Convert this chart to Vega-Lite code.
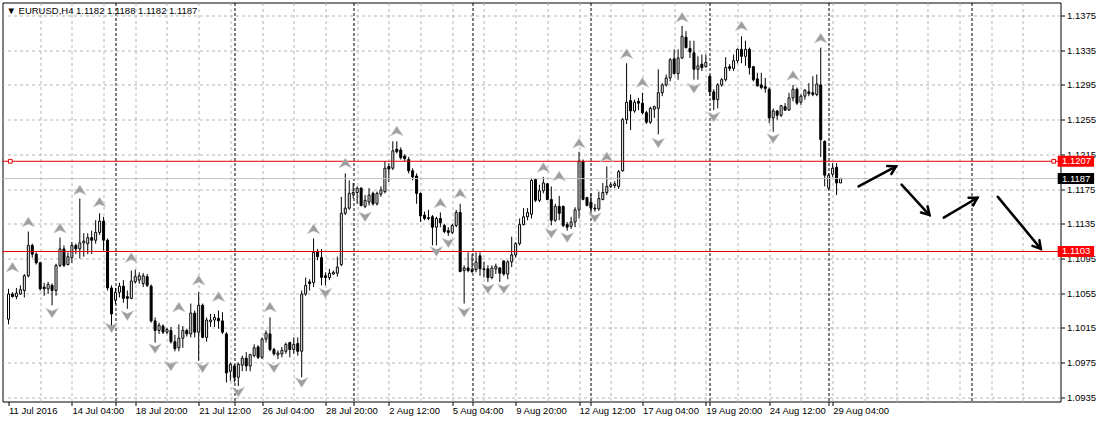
{
"$schema":"https://vega.github.io/schema/vega-lite/v6.json",
"width":1058,"height":399,
"autosize":{"type":"none"},
"padding":{"left":2.5,"top":2.5,"right":40.5,"bottom":20.5},
"background":"white",
"title":{"text":"▼ EURUSD,H4  1.1182 1.1188 1.1182 1.1187","anchor":"start","frame":"group","orient":"top","offset":-13,"dx":4,"fontSize":9.5,"fontWeight":"normal","color":"black","font":"Liberation Sans"},
"config":{"view":{"stroke":"black","strokeWidth":1,"fill":"white"},"font":"Liberation Sans","axis":{"labelFont":"Liberation Sans","labelFontSize":9.5,"labelColor":"black","tickColor":"black","domain":false,"title":null,"labelOverlap":false}},
"resolve":{"axis":{"x":"independent","y":"independent"}},
"datasets":{
"candles":[
{"i":0,"open":1.1025,"high":1.1060,"low":1.1019,"close":1.1054},
{"i":1,"open":1.1054,"high":1.1056,"low":1.1050,"close":1.1051},
{"i":2,"open":1.1051,"high":1.1061,"low":1.1048,"close":1.1055},
{"i":3,"open":1.1054,"high":1.1064,"low":1.1053,"close":1.1059},
{"i":4,"open":1.1058,"high":1.1077,"low":1.1050,"close":1.1075},
{"i":5,"open":1.1075,"high":1.1126,"low":1.1073,"close":1.1110},
{"i":6,"open":1.1110,"high":1.1112,"low":1.1096,"close":1.1100},
{"i":7,"open":1.1100,"high":1.1102,"low":1.1088,"close":1.1090},
{"i":8,"open":1.1090,"high":1.1091,"low":1.1058,"close":1.1060},
{"i":9,"open":1.1062,"high":1.1067,"low":1.1052,"close":1.1060},
{"i":10,"open":1.1060,"high":1.1068,"low":1.1054,"close":1.1065},
{"i":11,"open":1.1064,"high":1.1066,"low":1.1041,"close":1.1058},
{"i":12,"open":1.1058,"high":1.1089,"low":1.1052,"close":1.1087},
{"i":13,"open":1.1087,"high":1.1119,"low":1.1085,"close":1.1106},
{"i":14,"open":1.1106,"high":1.1110,"low":1.1085,"close":1.1087},
{"i":15,"open":1.1088,"high":1.1102,"low":1.1087,"close":1.1097},
{"i":16,"open":1.1096,"high":1.1114,"low":1.1090,"close":1.1110},
{"i":17,"open":1.1110,"high":1.1112,"low":1.1100,"close":1.1106},
{"i":18,"open":1.1106,"high":1.1164,"low":1.1095,"close":1.1113},
{"i":19,"open":1.1113,"high":1.1124,"low":1.1097,"close":1.1115},
{"i":20,"open":1.1112,"high":1.1124,"low":1.1100,"close":1.1119},
{"i":21,"open":1.1119,"high":1.1127,"low":1.1100,"close":1.1116},
{"i":22,"open":1.1116,"high":1.1139,"low":1.1112,"close":1.1125},
{"i":23,"open":1.1125,"high":1.1147,"low":1.1122,"close":1.1138},
{"i":24,"open":1.1138,"high":1.1143,"low":1.1104,"close":1.1116},
{"i":25,"open":1.1116,"high":1.1118,"low":1.1058,"close":1.1061},
{"i":26,"open":1.1061,"high":1.1064,"low":1.1017,"close":1.1031},
{"i":27,"open":1.1047,"high":1.1061,"low":1.1042,"close":1.1056},
{"i":28,"open":1.1056,"high":1.1067,"low":1.1050,"close":1.1063},
{"i":29,"open":1.1063,"high":1.1070,"low":1.1044,"close":1.1049},
{"i":30,"open":1.1051,"high":1.1058,"low":1.1037,"close":1.1049},
{"i":31,"open":1.1049,"high":1.1081,"low":1.1048,"close":1.1069},
{"i":32,"open":1.1068,"high":1.1082,"low":1.1066,"close":1.1074},
{"i":33,"open":1.1070,"high":1.1079,"low":1.1066,"close":1.1075},
{"i":34,"open":1.1066,"high":1.1078,"low":1.1062,"close":1.1075},
{"i":35,"open":1.1074,"high":1.1077,"low":1.1062,"close":1.1064},
{"i":36,"open":1.1063,"high":1.1065,"low":1.1021,"close":1.1023},
{"i":37,"open":1.1023,"high":1.1027,"low":1.0998,"close":1.1012},
{"i":38,"open":1.1012,"high":1.1021,"low":1.1008,"close":1.1018},
{"i":39,"open":1.1017,"high":1.1019,"low":1.1008,"close":1.1010},
{"i":40,"open":1.1010,"high":1.1015,"low":1.1008,"close":1.1013},
{"i":41,"open":1.1012,"high":1.1016,"low":1.0997,"close":1.0999},
{"i":42,"open":1.0999,"high":1.1007,"low":1.0988,"close":1.0991},
{"i":43,"open":1.0992,"high":1.1019,"low":1.0988,"close":1.1003},
{"i":44,"open":1.1003,"high":1.1017,"low":1.0992,"close":1.1012},
{"i":45,"open":1.1012,"high":1.1014,"low":1.1005,"close":1.1008},
{"i":46,"open":1.1008,"high":1.1043,"low":1.1004,"close":1.1032},
{"i":47,"open":1.1032,"high":1.1035,"low":1.1004,"close":1.1010},
{"i":48,"open":1.1010,"high":1.1056,"low":1.0977,"close":1.1041},
{"i":49,"open":1.1041,"high":1.1043,"low":1.1003,"close":1.1004},
{"i":50,"open":1.1004,"high":1.1027,"low":1.0999,"close":1.1024},
{"i":51,"open":1.1022,"high":1.1031,"low":1.1016,"close":1.1024},
{"i":52,"open":1.1024,"high":1.1031,"low":1.1016,"close":1.1027},
{"i":53,"open":1.1026,"high":1.1035,"low":1.1014,"close":1.1023},
{"i":54,"open":1.1023,"high":1.1033,"low":1.1008,"close":1.1010},
{"i":55,"open":1.1008,"high":1.1010,"low":1.0952,"close":1.0963},
{"i":56,"open":1.0965,"high":1.0975,"low":1.0954,"close":1.0973},
{"i":57,"open":1.0971,"high":1.0973,"low":1.0952,"close":1.0958},
{"i":58,"open":1.0958,"high":1.0975,"low":1.0948,"close":1.0973},
{"i":59,"open":1.0972,"high":1.0983,"low":1.0965,"close":1.0980},
{"i":60,"open":1.0980,"high":1.0987,"low":1.0965,"close":1.0971},
{"i":61,"open":1.0971,"high":1.0985,"low":1.0965,"close":1.0984},
{"i":62,"open":1.0983,"high":1.0996,"low":1.0981,"close":1.0992},
{"i":63,"open":1.0993,"high":1.0995,"low":1.0979,"close":1.0981},
{"i":64,"open":1.0981,"high":1.1004,"low":1.0979,"close":1.1002},
{"i":65,"open":1.1002,"high":1.1012,"low":1.0998,"close":1.1009},
{"i":66,"open":1.1008,"high":1.1027,"low":1.0988,"close":1.0990},
{"i":67,"open":1.0990,"high":1.0992,"low":1.0983,"close":1.0985},
{"i":68,"open":1.0984,"high":1.0989,"low":1.0979,"close":1.0986},
{"i":69,"open":1.0985,"high":1.0993,"low":1.0981,"close":1.0989},
{"i":70,"open":1.0988,"high":1.0998,"low":1.0985,"close":1.0996},
{"i":71,"open":1.0998,"high":1.0999,"low":1.0981,"close":1.0990},
{"i":72,"open":1.0990,"high":1.1004,"low":1.0985,"close":1.0996},
{"i":73,"open":1.0997,"high":1.1004,"low":1.0983,"close":1.0988},
{"i":74,"open":1.0988,"high":1.1058,"low":1.0958,"close":1.1054},
{"i":75,"open":1.1054,"high":1.1073,"low":1.1052,"close":1.1064},
{"i":76,"open":1.1068,"high":1.1071,"low":1.1058,"close":1.1066},
{"i":77,"open":1.1067,"high":1.1118,"low":1.1062,"close":1.1102},
{"i":78,"open":1.1103,"high":1.1106,"low":1.1093,"close":1.1097},
{"i":79,"open":1.1096,"high":1.1106,"low":1.1064,"close":1.1073},
{"i":80,"open":1.1075,"high":1.1079,"low":1.1064,"close":1.1073},
{"i":81,"open":1.1073,"high":1.1083,"low":1.1070,"close":1.1078},
{"i":82,"open":1.1077,"high":1.1081,"low":1.1076,"close":1.1079},
{"i":83,"open":1.1078,"high":1.1097,"low":1.1074,"close":1.1085},
{"i":84,"open":1.1088,"high":1.1166,"low":1.1086,"close":1.1147},
{"i":85,"open":1.1147,"high":1.1193,"low":1.1145,"close":1.1153},
{"i":86,"open":1.1153,"high":1.1185,"low":1.1151,"close":1.1170},
{"i":87,"open":1.1169,"high":1.1182,"low":1.1164,"close":1.1171},
{"i":88,"open":1.1171,"high":1.1178,"low":1.1158,"close":1.1176},
{"i":89,"open":1.1176,"high":1.1177,"low":1.1155,"close":1.1156},
{"i":90,"open":1.1155,"high":1.1168,"low":1.1153,"close":1.1162},
{"i":91,"open":1.1160,"high":1.1176,"low":1.1156,"close":1.1168},
{"i":92,"open":1.1170,"high":1.1172,"low":1.1156,"close":1.1158},
{"i":93,"open":1.1158,"high":1.1172,"low":1.1156,"close":1.1170},
{"i":94,"open":1.1169,"high":1.1178,"low":1.1166,"close":1.1174},
{"i":95,"open":1.1172,"high":1.1207,"low":1.1170,"close":1.1199},
{"i":96,"open":1.1201,"high":1.1205,"low":1.1183,"close":1.1198},
{"i":97,"open":1.1199,"high":1.1230,"low":1.1197,"close":1.1219},
{"i":98,"open":1.1221,"high":1.1230,"low":1.1216,"close":1.1218},
{"i":99,"open":1.1220,"high":1.1223,"low":1.1209,"close":1.1211},
{"i":100,"open":1.1213,"high":1.1215,"low":1.1207,"close":1.1210},
{"i":101,"open":1.1209,"high":1.1212,"low":1.1193,"close":1.1196},
{"i":102,"open":1.1196,"high":1.1199,"low":1.1185,"close":1.1189},
{"i":103,"open":1.1190,"high":1.1193,"low":1.1158,"close":1.1170},
{"i":104,"open":1.1170,"high":1.1171,"low":1.1137,"close":1.1144},
{"i":105,"open":1.1145,"high":1.1149,"low":1.1139,"close":1.1141},
{"i":106,"open":1.1142,"high":1.1151,"low":1.1139,"close":1.1141},
{"i":107,"open":1.1143,"high":1.1145,"low":1.1110,"close":1.1131},
{"i":108,"open":1.1131,"high":1.1143,"low":1.1110,"close":1.1141},
{"i":109,"open":1.1141,"high":1.1148,"low":1.1131,"close":1.1136},
{"i":110,"open":1.1133,"high":1.1135,"low":1.1124,"close":1.1126},
{"i":111,"open":1.1127,"high":1.1131,"low":1.1121,"close":1.1125},
{"i":112,"open":1.1125,"high":1.1135,"low":1.1123,"close":1.1133},
{"i":113,"open":1.1133,"high":1.1151,"low":1.1131,"close":1.1148},
{"i":114,"open":1.1148,"high":1.1158,"low":1.1079,"close":1.1080},
{"i":115,"open":1.1081,"high":1.1087,"low":1.1043,"close":1.1084},
{"i":116,"open":1.1084,"high":1.1102,"low":1.1079,"close":1.1081},
{"i":117,"open":1.1082,"high":1.1100,"low":1.1078,"close":1.1080},
{"i":118,"open":1.1082,"high":1.1102,"low":1.1079,"close":1.1091},
{"i":119,"open":1.1098,"high":1.1102,"low":1.1075,"close":1.1083},
{"i":120,"open":1.1083,"high":1.1091,"low":1.1073,"close":1.1082},
{"i":121,"open":1.1083,"high":1.1087,"low":1.1068,"close":1.1073},
{"i":122,"open":1.1073,"high":1.1087,"low":1.1071,"close":1.1084},
{"i":123,"open":1.1083,"high":1.1089,"low":1.1077,"close":1.1086},
{"i":124,"open":1.1084,"high":1.1085,"low":1.1068,"close":1.1078},
{"i":125,"open":1.1092,"high":1.1093,"low":1.1075,"close":1.1077},
{"i":126,"open":1.1077,"high":1.1093,"low":1.1071,"close":1.1091},
{"i":127,"open":1.1091,"high":1.1120,"low":1.1085,"close":1.1099},
{"i":128,"open":1.1099,"high":1.1114,"low":1.1096,"close":1.1112},
{"i":129,"open":1.1112,"high":1.1141,"low":1.1110,"close":1.1134},
{"i":130,"open":1.1134,"high":1.1153,"low":1.1133,"close":1.1143},
{"i":131,"open":1.1143,"high":1.1153,"low":1.1139,"close":1.1148},
{"i":132,"open":1.1146,"high":1.1187,"low":1.1141,"close":1.1185},
{"i":133,"open":1.1186,"high":1.1187,"low":1.1160,"close":1.1162},
{"i":134,"open":1.1162,"high":1.1180,"low":1.1160,"close":1.1173},
{"i":135,"open":1.1173,"high":1.1189,"low":1.1170,"close":1.1182},
{"i":136,"open":1.1181,"high":1.1182,"low":1.1162,"close":1.1163},
{"i":137,"open":1.1163,"high":1.1178,"low":1.1133,"close":1.1139},
{"i":138,"open":1.1139,"high":1.1158,"low":1.1137,"close":1.1155},
{"i":139,"open":1.1155,"high":1.1167,"low":1.1139,"close":1.1147},
{"i":140,"open":1.1155,"high":1.1156,"low":1.1131,"close":1.1133},
{"i":141,"open":1.1134,"high":1.1137,"low":1.1127,"close":1.1131},
{"i":142,"open":1.1132,"high":1.1143,"low":1.1129,"close":1.1137},
{"i":143,"open":1.1137,"high":1.1154,"low":1.1131,"close":1.1151},
{"i":144,"open":1.1151,"high":1.1218,"low":1.1141,"close":1.1207},
{"i":145,"open":1.1207,"high":1.1209,"low":1.1162,"close":1.1163},
{"i":146,"open":1.1165,"high":1.1166,"low":1.1155,"close":1.1156},
{"i":147,"open":1.1160,"high":1.1170,"low":1.1147,"close":1.1153},
{"i":148,"open":1.1153,"high":1.1158,"low":1.1149,"close":1.1152},
{"i":149,"open":1.1152,"high":1.1172,"low":1.1150,"close":1.1164},
{"i":150,"open":1.1163,"high":1.1182,"low":1.1162,"close":1.1171},
{"i":151,"open":1.1171,"high":1.1201,"low":1.1168,"close":1.1178},
{"i":152,"open":1.1178,"high":1.1183,"low":1.1176,"close":1.1180},
{"i":153,"open":1.1179,"high":1.1184,"low":1.1176,"close":1.1181},
{"i":154,"open":1.1178,"high":1.1197,"low":1.1175,"close":1.1195},
{"i":155,"open":1.1196,"high":1.1257,"low":1.1195,"close":1.1255},
{"i":156,"open":1.1255,"high":1.1320,"low":1.1250,"close":1.1275},
{"i":157,"open":1.1277,"high":1.1284,"low":1.1243,"close":1.1265},
{"i":158,"open":1.1265,"high":1.1278,"low":1.1263,"close":1.1275},
{"i":159,"open":1.1276,"high":1.1280,"low":1.1266,"close":1.1274},
{"i":160,"open":1.1274,"high":1.1286,"low":1.1261,"close":1.1263},
{"i":161,"open":1.1263,"high":1.1265,"low":1.1250,"close":1.1252},
{"i":162,"open":1.1252,"high":1.1270,"low":1.1250,"close":1.1268},
{"i":163,"open":1.1267,"high":1.1271,"low":1.1257,"close":1.1270},
{"i":164,"open":1.1268,"high":1.1313,"low":1.1238,"close":1.1286},
{"i":165,"open":1.1286,"high":1.1297,"low":1.1282,"close":1.1295},
{"i":166,"open":1.1295,"high":1.1307,"low":1.1293,"close":1.1303},
{"i":167,"open":1.1303,"high":1.1326,"low":1.1299,"close":1.1324},
{"i":168,"open":1.1325,"high":1.1336,"low":1.1307,"close":1.1308},
{"i":169,"open":1.1308,"high":1.1336,"low":1.1301,"close":1.1326},
{"i":170,"open":1.1326,"high":1.1363,"low":1.1325,"close":1.1351},
{"i":171,"open":1.1350,"high":1.1357,"low":1.1337,"close":1.1338},
{"i":172,"open":1.1337,"high":1.1346,"low":1.1326,"close":1.1333},
{"i":173,"open":1.1332,"high":1.1346,"low":1.1301,"close":1.1313},
{"i":174,"open":1.1313,"high":1.1328,"low":1.1301,"close":1.1317},
{"i":175,"open":1.1319,"high":1.1330,"low":1.1311,"close":1.1315},
{"i":176,"open":1.1316,"high":1.1330,"low":1.1315,"close":1.1321},
{"i":177,"open":1.1305,"high":1.1306,"low":1.1282,"close":1.1287},
{"i":178,"open":1.1287,"high":1.1290,"low":1.1266,"close":1.1278},
{"i":179,"open":1.1278,"high":1.1297,"low":1.1268,"close":1.1295},
{"i":180,"open":1.1295,"high":1.1303,"low":1.1293,"close":1.1301},
{"i":181,"open":1.1301,"high":1.1327,"low":1.1299,"close":1.1315},
{"i":182,"open":1.1316,"high":1.1319,"low":1.1311,"close":1.1314},
{"i":183,"open":1.1314,"high":1.1330,"low":1.1311,"close":1.1323},
{"i":184,"open":1.1323,"high":1.1337,"low":1.1320,"close":1.1336},
{"i":185,"open":1.1336,"high":1.1351,"low":1.1320,"close":1.1328},
{"i":186,"open":1.1328,"high":1.1346,"low":1.1317,"close":1.1336},
{"i":187,"open":1.1336,"high":1.1338,"low":1.1307,"close":1.1315},
{"i":188,"open":1.1316,"high":1.1317,"low":1.1299,"close":1.1301},
{"i":189,"open":1.1302,"high":1.1309,"low":1.1293,"close":1.1294},
{"i":190,"open":1.1295,"high":1.1309,"low":1.1290,"close":1.1292},
{"i":191,"open":1.1293,"high":1.1303,"low":1.1286,"close":1.1291},
{"i":192,"open":1.1290,"high":1.1292,"low":1.1251,"close":1.1257},
{"i":193,"open":1.1257,"high":1.1268,"low":1.1241,"close":1.1265},
{"i":194,"open":1.1265,"high":1.1266,"low":1.1255,"close":1.1260},
{"i":195,"open":1.1260,"high":1.1272,"low":1.1258,"close":1.1271},
{"i":196,"open":1.1270,"high":1.1274,"low":1.1265,"close":1.1266},
{"i":197,"open":1.1266,"high":1.1286,"low":1.1265,"close":1.1280},
{"i":198,"open":1.1280,"high":1.1295,"low":1.1276,"close":1.1290},
{"i":199,"open":1.1290,"high":1.1292,"low":1.1272,"close":1.1274},
{"i":200,"open":1.1275,"high":1.1284,"low":1.1272,"close":1.1282},
{"i":201,"open":1.1282,"high":1.1290,"low":1.1278,"close":1.1289},
{"i":202,"open":1.1287,"high":1.1297,"low":1.1282,"close":1.1285},
{"i":203,"open":1.1286,"high":1.1305,"low":1.1282,"close":1.1284},
{"i":204,"open":1.1284,"high":1.1307,"low":1.1282,"close":1.1296},
{"i":205,"open":1.1295,"high":1.1338,"low":1.1212,"close":1.1232},
{"i":206,"open":1.1230,"high":1.1231,"low":1.1178,"close":1.1191},
{"i":207,"open":1.1176,"high":1.1193,"low":1.1174,"close":1.1191},
{"i":208,"open":1.1192,"high":1.1205,"low":1.1189,"close":1.1199},
{"i":209,"open":1.1200,"high":1.1205,"low":1.1168,"close":1.1182},
{"i":210,"open":1.1182,"high":1.1188,"low":1.1182,"close":1.1187}
],
"fractals":[
{"i":1,"price":1.1085,"dir":"up"},{"i":5,"price":1.1137,"dir":"up"},{"i":13,"price":1.1130,"dir":"up"},{"i":18,"price":1.1174,"dir":"up"},{"i":23,"price":1.1160,"dir":"up"},{"i":31,"price":1.1096,"dir":"up"},{"i":43,"price":1.1039,"dir":"up"},{"i":48,"price":1.1070,"dir":"up"},{"i":53,"price":1.1051,"dir":"up"},{"i":66,"price":1.1039,"dir":"up"},{"i":77,"price":1.1129,"dir":"up"},{"i":85,"price":1.1205,"dir":"up"},{"i":98,"price":1.1242,"dir":"up"},{"i":109,"price":1.1159,"dir":"up"},{"i":114,"price":1.1170,"dir":"up"},{"i":135,"price":1.1200,"dir":"up"},{"i":139,"price":1.1190,"dir":"up"},{"i":144,"price":1.1228,"dir":"up"},{"i":151,"price":1.1212,"dir":"up"},{"i":156,"price":1.1331,"dir":"up"},{"i":160,"price":1.1298,"dir":"up"},{"i":170,"price":1.1373,"dir":"up"},{"i":185,"price":1.1363,"dir":"up"},{"i":198,"price":1.1306,"dir":"up"},{"i":205,"price":1.1349,"dir":"up"},
{"i":11,"price":1.1032,"dir":"down"},{"i":26,"price":1.1015,"dir":"down"},{"i":30,"price":1.1029,"dir":"down"},{"i":37,"price":1.0991,"dir":"down"},{"i":41,"price":1.0971,"dir":"down"},{"i":49,"price":1.0969,"dir":"down"},{"i":58,"price":1.0941,"dir":"down"},{"i":67,"price":1.0969,"dir":"down"},{"i":74,"price":1.0952,"dir":"down"},{"i":80,"price":1.1055,"dir":"down"},{"i":90,"price":1.1143,"dir":"down"},{"i":108,"price":1.1103,"dir":"down"},{"i":111,"price":1.1113,"dir":"down"},{"i":115,"price":1.1033,"dir":"down"},{"i":121,"price":1.1060,"dir":"down"},{"i":125,"price":1.1060,"dir":"down"},{"i":137,"price":1.1124,"dir":"down"},{"i":141,"price":1.1119,"dir":"down"},{"i":148,"price":1.1142,"dir":"down"},{"i":164,"price":1.1228,"dir":"down"},{"i":173,"price":1.1291,"dir":"down"},{"i":178,"price":1.1258,"dir":"down"},{"i":193,"price":1.1233,"dir":"down"}
],
"levels":[{"price":1.1207,"kind":"level"},{"price":1.1103,"kind":"level"},{"price":1.1187,"kind":"bid"}],
"handles":[{"i":0.45,"price":1.1207},{"i":263.8,"price":1.1207}],
"arrows":[{"ia":214.55,"pa":1.1178,"ib":224.0,"pb":1.1201},{"ia":225.4,"pa":1.1180,"ib":232.45,"pb":1.1145},{"ia":236.05,"pa":1.1142,"ib":244.55,"pb":1.1165},{"ia":249.7,"pa":1.1166,"ib":260.55,"pb":1.1106}]
},
"layer":[
{"data":{"name":"candles"},"mark":{"type":"rule","color":"black","strokeWidth":1},
"encoding":{
"x":{"field":"i","type":"quantitative","scale":{"domain":[-0.25,264.25],"nice":false,"zero":false},
"axis":{"orient":"bottom","values":[0,8,16,24,32,40,48,56,64,72,80,88,96,104,112,120,128,136,144,152,160,168,176,184,192,200,208,216,224,232,240,248,256,27,57,87,117,147,177,207,243],
"grid":true,
"gridColor":{"condition":{"test":"indexof([27,57,87,117,147,177,207,243], datum.value) >= 0","value":"#000000"},"value":"#b4b4b4"},
"gridDash":{"condition":{"test":"indexof([27,57,87,117,147,177,207,243], datum.value) >= 0","value":[3,2]},"value":[3,3]},
"gridOpacity":{"condition":{"test":"datum.value == 0","value":0},"value":1},
"ticks":true,"tickSize":4,"tickColor":"black",
"tickOpacity":{"condition":{"test":"(datum.value % 16 == 0 && datum.value <= 208) || indexof([27,57,87,117,147,177,207], datum.value) >= 0","value":1},"value":0},
"labelExpr":"datum.value % 16 == 0 && datum.value <= 208 ? ['11 Jul 2016','14 Jul 04:00','18 Jul 20:00','21 Jul 12:00','26 Jul 04:00','28 Jul 20:00','2 Aug 12:00','5 Aug 04:00','9 Aug 20:00','12 Aug 12:00','17 Aug 04:00','19 Aug 20:00','24 Aug 12:00','29 Aug 04:00'][datum.value / 16] : ''",
"labelAlign":"left","labelPadding":0,"labelOverlap":false,"labelFlush":false,"labelBound":false,"domain":false,"title":null}},
"y":{"field":"low","type":"quantitative","scale":{"domain":[1.09301,1.139],"nice":false,"zero":false},
"axis":{"orient":"right","values":[1.0935,1.0975,1.1015,1.1055,1.1095,1.1135,1.1175,1.1215,1.1255,1.1295,1.1335,1.1375],"format":".4f","grid":true,"gridColor":"#b4b4b4","gridDash":[3,3],"tickSize":4,"tickColor":"black","labelPadding":2,"labelOverlap":false,"domain":false,"title":null}},
"y2":{"field":"high"}}},
{"data":{"name":"candles"},"mark":{"type":"bar","width":2,"stroke":"black","strokeWidth":1},
"encoding":{
"x":{"field":"i","type":"quantitative","axis":null},
"y":{"field":"open","type":"quantitative","axis":null},
"y2":{"field":"close"},
"fill":{"condition":{"test":"datum.close >= datum.open","value":"white"},"value":"black"}}},
{"data":{"name":"levels"},"mark":{"type":"rule","strokeWidth":1},
"encoding":{
"y":{"field":"price","type":"quantitative","axis":null},
"color":{"condition":{"test":"datum.kind == 'bid'","value":"#c0c0c0"},"value":"#e00000"}}},
{"data":{"name":"handles"},"mark":{"type":"point","shape":"square","size":14,"filled":true,"fill":"white","stroke":"#e00000","strokeWidth":1,"opacity":1},
"encoding":{
"x":{"field":"i","type":"quantitative","axis":null},
"y":{"field":"price","type":"quantitative","axis":null}}},
{"data":{"name":"fractals"},"mark":{"type":"point","filled":true,"size":196,"fill":"#9e9e9e","stroke":"#cfcfcf","strokeWidth":0.6,"opacity":1},
"encoding":{
"x":{"field":"i","type":"quantitative","axis":null},
"y":{"field":"price","type":"quantitative","axis":null},
"shape":{"field":"dir","type":"nominal","scale":{"domain":["up","down"],"range":["M0,-0.7L0.9,0.7L0,0.3L-0.9,0.7Z","M0,0.7L0.9,-0.7L0,-0.3L-0.9,-0.7Z"]},"legend":null}}},
{"data":{"name":"arrows"},"mark":{"type":"rule","color":"black","strokeWidth":2.5,"strokeCap":"round"},
"encoding":{
"x":{"field":"ia","type":"quantitative","axis":null},
"y":{"field":"pa","type":"quantitative","axis":null},
"x2":{"field":"ib"},"y2":{"field":"pb"}}},
{"data":{"name":"arrows"},"transform":[{"calculate":"atan2(4*(datum.ib-datum.ia), 8675*(datum.pb-datum.pa))*180/PI","as":"ang"}],
"mark":{"type":"point","filled":false,"shape":"M-0.5,0.85L0,0L0.5,0.85","size":324,"stroke":"black","strokeWidth":2.5,"strokeCap":"round","opacity":1},
"encoding":{
"x":{"field":"ib","type":"quantitative","axis":null},
"y":{"field":"pb","type":"quantitative","axis":null},
"angle":{"field":"ang","type":"quantitative","scale":null}}},
{"data":{"name":"levels"},"mark":{"type":"point","filled":true,"shape":"M-1.82,-0.55H1.82V0.55H-1.82Z","size":400,"opacity":1,"strokeWidth":0},
"encoding":{
"x":{"datum":269.4,"type":"quantitative","axis":null},
"y":{"field":"price","type":"quantitative","axis":null},
"fill":{"condition":{"test":"datum.kind == 'bid'","value":"#000000"},"value":"#ff0000"}}},
{"data":{"name":"levels"},"mark":{"type":"text","align":"left","baseline":"middle","fontSize":9.5,"font":"Liberation Sans","color":"white"},
"encoding":{
"x":{"datum":265.9,"type":"quantitative","axis":null},
"y":{"field":"price","type":"quantitative","axis":null},
"text":{"field":"price","type":"quantitative","format":".4f"}}}
]
}
